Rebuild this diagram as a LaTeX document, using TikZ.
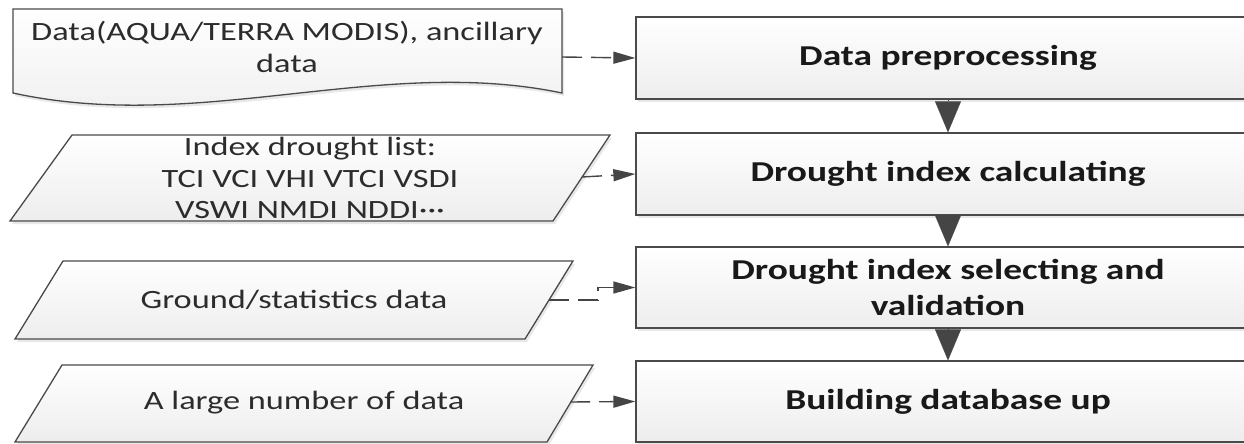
\documentclass[tikz,border=0pt]{standalone}
\usepackage{fontspec}
\setmainfont{Carlito}[FakeStretch=1.3]
\usetikzlibrary{arrows.meta,shadows}
\definecolor{edge}{HTML}{4A4A4A}
\definecolor{ink}{HTML}{2C2C2C}
\definecolor{arr}{HTML}{454545}
\begin{document}
\begin{tikzpicture}[x=1pt,y=-1pt,
  shapebox/.style={draw=edge, line width=1.3pt, top color=white, bottom color=gray!14,
    drop shadow={opacity=0.18, shadow xshift=2pt, shadow yshift=-3pt}},
  stepbox/.style={shapebox, minimum width=624pt, minimum height=82pt, inner sep=0pt,
    font=\fontsize{28.8}{36}\selectfont\bfseries, text=black!90, align=center},
  lbl/.style={font=\fontsize{26.4}{31.5}\selectfont, text=ink, align=center, inner sep=0pt},
  feed/.style={draw=arr, line width=1.4pt, dash pattern=on 20pt off 9pt,
    -{Triangle[length=22pt,width=12pt]}},
  flow/.style={draw=arr, line width=0.1pt, -{Triangle[length=31pt,width=26pt]}}
]
\fill[white] (0,0) rectangle (1244,444);
\path[use as bounding box, clip] (0,0) rectangle (1244,444);

% process boxes
\node[stepbox] (b1) at (948,58) {Data preprocessing};
\node[stepbox] (b2) at (948,174) {Drought index calculating};
\node[stepbox, minimum height=81pt] (b3) at (948,287.5) {Drought index selecting and\\validation};
\node[stepbox, minimum height=81pt] (b4) at (948,401.5) {Building database up};

% document shape
\path[shapebox] (13,9) -- (562,9) -- (562,93) .. controls (380,55) and (200,134) .. (13,93) -- cycle;
\node[lbl] (t1) at (287,47) {Data(AQUA/TERRA MODIS), ancillary\\data};
\coordinate (d1) at (562,57);

% parallelograms
\path[shapebox] (72,135) -- (610,135) -- (553,221) -- (10,221) -- cycle;
\node[lbl] (t2) at (310,178) {Index drought list:\\TCI VCI VHI VTCI VSDI\\VSWI NMDI NDDI···};
\coordinate (p2) at (582,177);

\path[shapebox] (63,261) -- (573,261) -- (525,339) -- (15,339) -- cycle;
\node[lbl] (t3) at (294,300) {Ground/statistics data};
\coordinate (p3) at (549,300);
\coordinate (k3) at (598,300);

\path[shapebox] (62,365) -- (593,365) -- (547,442) -- (15,442) -- cycle;
\node[lbl] (t4) at (304,403) {A large number of data};
\coordinate (p4) at (570,402);

% connectors
\draw[feed] (d1) -- (b1.west);
\draw[feed] (p2) -- (b2.west);
\draw[feed] (p3) -- (k3) |- (b3.west);
\draw[feed] (p4) -- (b4.west);

\draw[flow] (b1.south) -- (b2.north);
\draw[flow] (b2.south) -- (b3.north);
\draw[flow] (b3.south) -- (b4.north);
\end{tikzpicture}
\end{document}
